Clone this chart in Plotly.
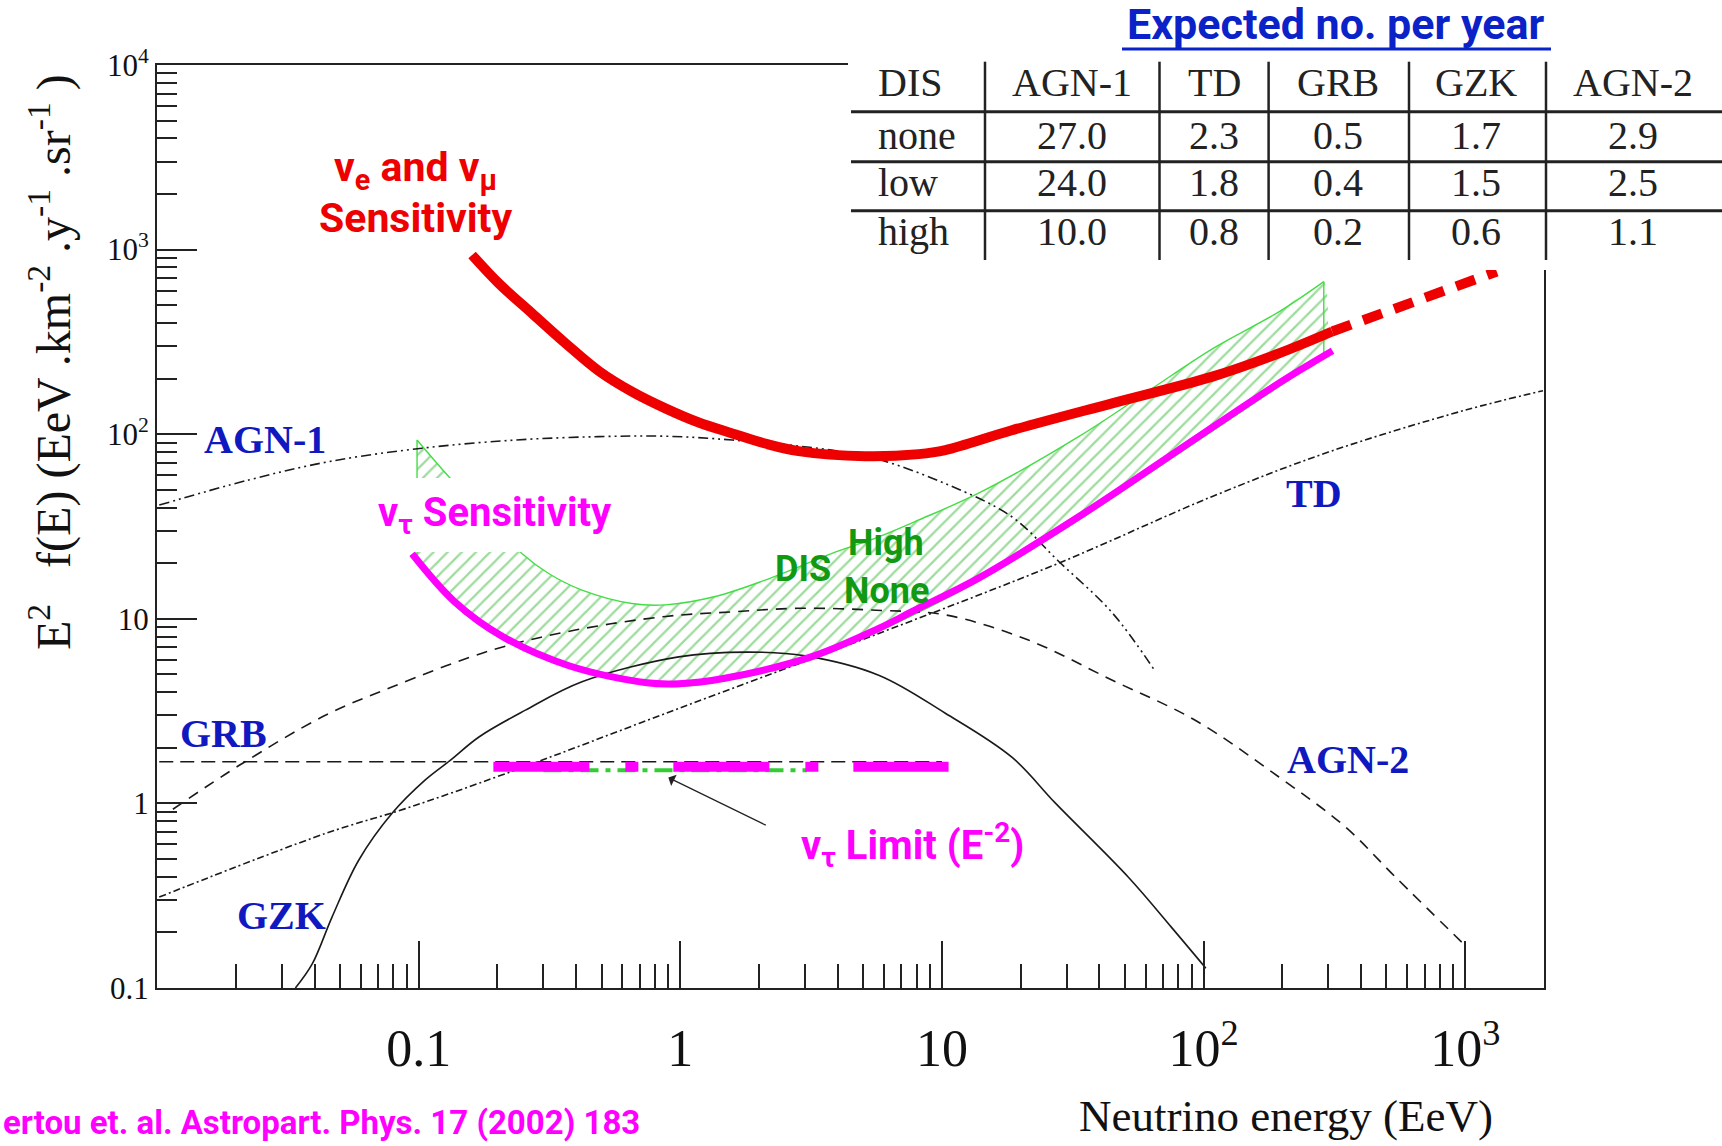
import math
import plotly.graph_objects as go

# ---------------- data ----------------
agn1_x = [0.0102, 0.0224, 0.0453, 0.103, 0.234, 0.488, 0.877, 1.58, 3.78, 5.73, 10.3, 18.5, 27.9, 44.7, 65.3]
agn1_y = [41.3, 56.5, 71, 84, 93, 97, 97.5, 93, 82, 73, 54, 35.7, 20.5, 10.8, 5.2]

td_x = [0.0102, 0.044, 0.089, 0.215, 0.986, 5.73, 27.9, 108, 300, 1000, 1982]
td_y = [0.311, 0.687, 0.937, 1.45, 3.27, 8.33, 20.0, 46.0, 80.0, 135, 172]

agn2_x = [0.0115, 0.0211, 0.044, 0.079, 0.19, 0.397, 0.88, 1.58, 2.83, 5.87, 10.3, 21.4, 44.6, 92.9, 194, 348, 540, 1007]
agn2_y = [0.93, 1.64, 3.0, 4.27, 6.76, 8.69, 10.3, 10.9, 11.4, 11.1, 10.5, 7.67, 4.66, 2.82, 1.39, 0.746, 0.40, 0.168]

grb_x = [0.0102, 10.0]
grb_y = [1.68, 1.68]

gzk_x = [0.0338, 0.0392, 0.0467, 0.059, 0.079, 0.106, 0.132, 0.17, 0.256, 0.421, 0.986, 1.8, 3.0, 5.73, 10.3, 18.5, 27.2, 51.6, 75.4, 102]
gzk_y = [0.1, 0.135, 0.243, 0.492, 0.881, 1.34, 1.71, 2.29, 3.2, 4.56, 6.22, 6.6, 6.3, 4.95, 3.08, 1.78, 1.0, 0.398, 0.213, 0.128]

nue_x = [0.16, 0.202, 0.271, 0.364, 0.488, 0.653, 0.877, 1.17, 1.58, 2.11, 2.83, 5.09, 8.15, 10.3, 18.5, 44.7, 108, 194, 310]
nue_y = [935, 658, 452, 311, 220, 170, 138, 116, 101, 89, 81, 76, 78, 82, 105, 147, 205, 274, 360]
nue_ext_x = [310, 1320]
nue_ext_y = [360, 760]

nutau_x = [0.0944, 0.137, 0.211, 0.378, 0.745, 0.986, 1.46, 3.16, 5.73, 7.85, 13.8, 33.3, 80.2, 194, 311]
nutau_y = [22.5, 12.4, 7.96, 5.55, 4.5, 4.45, 4.75, 6.22, 8.87, 11.1, 16.6, 35.7, 82, 189, 283]

dis_high_x = [0.0986, 0.132, 0.248, 0.314, 0.421, 0.653, 0.877, 1.36, 2.11, 3.80, 5.73, 8.15, 13.8, 33.3, 59.8, 108, 194, 288]
dis_high_y = [93, 57.7, 22.6, 17.6, 14.3, 12.1, 11.9, 13.2, 16.2, 22.6, 27.8, 34.3, 47.9, 97, 167, 290, 460, 671]
dis_none_x = [0.0986, 0.137, 0.211, 0.378, 0.745, 0.986, 1.46, 3.16, 5.73, 13.8, 33.3, 80.2, 194, 288]
dis_none_y = [21.5, 11.9, 7.7, 5.4, 4.4, 4.3, 4.6, 6.0, 8.55, 16.0, 34.3, 78.5, 181, 262]

nutau_limit_x = [0.193, 10.6]
nutau_limit_y = [1.58, 1.58]
dis_limit_x = [0.30, 3.05]
dis_limit_y = [1.51, 1.51]

arrow_head = (0.90, 1.38)
arrow_tail = (2.15, 0.755)

x_tickvals = [0.1, 1, 10, 100, 1000]
x_ticktext = ["0.1", "1", "10", "10<sup>2</sup>", "10<sup>3</sup>"]
y_tickvals = [0.1, 1, 10, 100, 1000, 10000]
y_ticktext = ["0.1", "1", "10", "10<sup>2</sup>", "10<sup>3</sup>", "10<sup>4</sup>"]
x_minor = [m * 10 ** e for e in range(-2, 4) for m in range(2, 10) if m * 10 ** e < 2000]
y_minor = [m * 10 ** e for e in range(-1, 4) for m in range(2, 10)]

table_cols = ["DIS", "AGN-1", "TD", "GRB", "GZK", "AGN-2"]
table_rows = ["none", "low", "high"]
table_values = [
    [27.0, 2.3, 0.5, 1.7, 2.9],
    [24.0, 1.8, 0.4, 1.5, 2.5],
    [10.0, 0.8, 0.2, 0.6, 1.1],
]

# ---------------- layout helpers ----------------
W, H = 1722, 1146
L, R, T, B = 157, 1544, 65, 988
SERIF = "Liberation Serif, Times New Roman, serif"
SANS = "Roboto, Liberation Sans, sans-serif"
BLUE = "#1018c0"
MAG = "#ff00ff"
RED = "#ee0000"
GREEN = "#119911"
INK = "#1a1a1a"


def px(X):
    return (X - L) / (R - L)


def py(Y):
    return (B - Y) / (B - T)


fig = go.Figure()

# DIS band (hatched fill, then outline)
fig.add_trace(go.Scatter(
    x=dis_high_x + dis_none_x[::-1], y=dis_high_y + dis_none_y[::-1],
    mode="lines", fill="toself", fillcolor="rgba(255,255,255,0)",
    fillpattern=dict(shape="/", fgcolor="#3cb83c", bgcolor="rgba(255,255,255,0)", size=10, solidity=0.22),
    line=dict(color="rgba(0,0,0,0)", width=0, shape="spline", smoothing=0.6),
    hoverinfo="skip", showlegend=False))
edge = dict(color="#44dd44", width=1.4, shape="spline", smoothing=1.0)
fig.add_trace(go.Scatter(x=dis_high_x, y=dis_high_y, mode="lines", line=edge, showlegend=False))
fig.add_trace(go.Scatter(x=dis_none_x, y=dis_none_y, mode="lines", line=edge, showlegend=False))
fig.add_trace(go.Scatter(x=[dis_high_x[-1], dis_none_x[-1]], y=[dis_high_y[-1], dis_none_y[-1]],
                         mode="lines", line=dict(color="#44dd44", width=1.4), showlegend=False))
fig.add_trace(go.Scatter(x=[dis_high_x[0], dis_none_x[0]], y=[dis_high_y[0], dis_none_y[0]],
                         mode="lines", line=dict(color="#44dd44", width=1.4), showlegend=False))

# model curves
thin = dict(color=INK, width=1.6, shape="spline", smoothing=1.0)
fig.add_trace(go.Scatter(x=agn1_x, y=agn1_y, mode="lines", line=dict(thin, dash="10px,4px,2px,4px,2px,4px"), showlegend=False))
fig.add_trace(go.Scatter(x=td_x, y=td_y, mode="lines", line=dict(thin, dash="7px,3px,2px,3px"), showlegend=False))
fig.add_trace(go.Scatter(x=agn2_x, y=agn2_y, mode="lines", line=dict(thin, dash="11px,8px"), showlegend=False))
fig.add_trace(go.Scatter(x=grb_x, y=grb_y, mode="lines", line=dict(color=INK, width=1.6, dash="14px,7px"), showlegend=False))
fig.add_trace(go.Scatter(x=gzk_x, y=gzk_y, mode="lines", line=thin, showlegend=False))

# limits
fig.add_trace(go.Scatter(x=dis_limit_x, y=dis_limit_y, mode="lines", line=dict(color="#33cc33", width=4, dash="18px,7px,5px,7px"), showlegend=False))
fig.add_trace(go.Scatter(x=nutau_limit_x, y=nutau_limit_y, mode="lines", line=dict(color=MAG, width=10, dash="96px,36px,13px,35px"), showlegend=False))

# sensitivities
fig.add_trace(go.Scatter(x=nutau_x, y=nutau_y, mode="lines", line=dict(color=MAG, width=7, shape="spline", smoothing=1.0), showlegend=False))
fig.add_trace(go.Scatter(x=nue_x, y=nue_y, mode="lines", line=dict(color=RED, width=10, shape="spline", smoothing=1.0), showlegend=False))
fig.add_trace(go.Scatter(x=nue_ext_x, y=nue_ext_y, mode="lines", line=dict(color=RED, width=10, dash="20px,13px"), showlegend=False))

shapes = []
# white boxes behind texts / table
for (x0, y0, x1, y1) in [(318, 135, 515, 252), (375, 478, 620, 552), (848, 52, W, 270)]:
    shapes.append(dict(type="rect", xref="paper", yref="paper", x0=px(x0), x1=px(x1), y0=py(y1), y1=py(y0),
                       fillcolor="white", line=dict(width=0), layer="above"))
# table rules
for yy in [111.7, 161.7, 210.7]:
    shapes.append(dict(type="line", xref="paper", yref="paper", x0=px(851), x1=px(W), y0=py(yy), y1=py(yy),
                       line=dict(color="#222", width=3), layer="above"))
for xx in [985, 1159.5, 1268.6, 1409, 1546]:
    shapes.append(dict(type="line", xref="paper", yref="paper", x0=px(xx), x1=px(xx), y0=py(61.7), y1=py(260),
                       line=dict(color="#222", width=2.5), layer="above"))
# title underline
shapes.append(dict(type="line", xref="paper", yref="paper", x0=px(1122), x1=px(1551), y0=py(49), y1=py(49),
                   line=dict(color="#0b22c8", width=3), layer="above"))

ann = []


def text(X, Y, s, size, color, family, xanchor="center", angle=0, weight="normal"):
    ann.append(dict(xref="paper", yref="paper", x=px(X), y=py(Y), text=s, showarrow=False,
                    xanchor=xanchor, yanchor="middle", textangle=angle,
                    font=dict(family=family, size=size, color=color, weight=weight)))


# table text
col_x = [876, 1072, 1214, 1338, 1476, 1633]
row_y = [82, 135, 183, 232]
for j, c in enumerate(table_cols):
    text(col_x[j], row_y[0], c, 40, "#222", SERIF, xanchor="left" if j == 0 else "center")
for i, r in enumerate(table_rows):
    text(col_x[0], row_y[i + 1], r, 40, "#222", SERIF, xanchor="left")
    for j, v in enumerate(table_values[i]):
        text(col_x[j + 1], row_y[i + 1], f"{v:.1f}", 40, "#222", SERIF)

text(1336, 24, "Expected no. per year", 43, "#0b22c8", SANS, weight="bold")

# curve labels
text(265, 439, "AGN-1", 40, BLUE, SERIF, weight="bold")
text(1314, 493, "TD", 40, BLUE, SERIF, weight="bold")
text(223, 733, "GRB", 40, BLUE, SERIF, weight="bold")
text(1348, 760, "AGN-2", 40, BLUE, SERIF, weight="bold")
text(281, 915, "GZK", 40, BLUE, SERIF, weight="bold")

text(415, 170, "ν<sub>e</sub> and ν<sub>μ</sub>", 41, RED, SANS, weight="bold")
text(415, 218, "Sensitivity", 41, RED, SANS, weight="bold")
text(495, 515, "ν<sub>τ</sub> Sensitivity", 40, MAG, SANS, weight="bold")
text(803, 569, "DIS", 36, GREEN, SANS, weight="bold")
text(886, 543, "High", 36, GREEN, SANS, weight="bold")
text(886, 591, "None", 36, GREEN, SANS, weight="bold")
text(912, 845, "ν<sub>τ</sub> Limit (E<sup>-2</sup>)", 40, MAG, SANS, weight="bold")
text(1, 1122, "ertou et. al. Astropart. Phys. 17 (2002) 183", 33, MAG, SANS, xanchor="left", weight="bold")

# axis titles
text(1286, 1116, "Neutrino energy (EeV)", 45, "#111", SERIF)
text(50, 362, "E<sup>2</sup>   f(E) (EeV .km<sup>-2</sup> .y<sup>-1</sup> .sr<sup>-1</sup> )", 48, "#111", SERIF, angle=-90)

# arrow
ann.append(dict(x=math.log10(arrow_head[0]), y=math.log10(arrow_head[1]), xref="x", yref="y",
                ax=math.log10(arrow_tail[0]), ay=math.log10(arrow_tail[1]), axref="x", ayref="y",
                text="", showarrow=True, arrowhead=1, arrowsize=1.6, arrowwidth=1.3, arrowcolor="#222"))

fig.update_layout(
    width=W, height=H,
    margin=dict(l=L, r=W - R, t=T, b=H - B, pad=0),
    paper_bgcolor="white", plot_bgcolor="white",
    shapes=shapes, annotations=ann, showlegend=False,
)
fig.update_xaxes(
    type="log", range=[-2, 3.301], showgrid=False, zeroline=False, automargin=False,
    showline=True, linecolor="#222", linewidth=2, mirror=True,
    ticks="inside", ticklen=47, tickwidth=2, tickcolor="#222",
    tickmode="array", tickvals=x_tickvals, ticktext=x_ticktext,
    tickfont=dict(family=SERIF, size=52, color="#111"), ticklabelstandoff=14,
    minor=dict(tickmode="array", tickvals=x_minor, ticks="inside", ticklen=24, tickwidth=2,
               tickcolor="#222", showgrid=False),
)
fig.update_yaxes(
    type="log", range=[-1, 4], showgrid=False, zeroline=False, automargin=False,
    showline=True, linecolor="#222", linewidth=2, mirror=True,
    ticks="inside", ticklen=40, tickwidth=2, tickcolor="#222",
    tickmode="array", tickvals=y_tickvals, ticktext=y_ticktext,
    tickfont=dict(family=SERIF, size=31, color="#111"), ticklabelstandoff=0,
    minor=dict(tickmode="array", tickvals=y_minor, ticks="inside", ticklen=20, tickwidth=2,
               tickcolor="#222", showgrid=False),
)

fig.write_html("out.html", config={"displayModeBar": False},
               post_script="document.body.style.margin='0px';document.body.style.overflow='hidden';")
